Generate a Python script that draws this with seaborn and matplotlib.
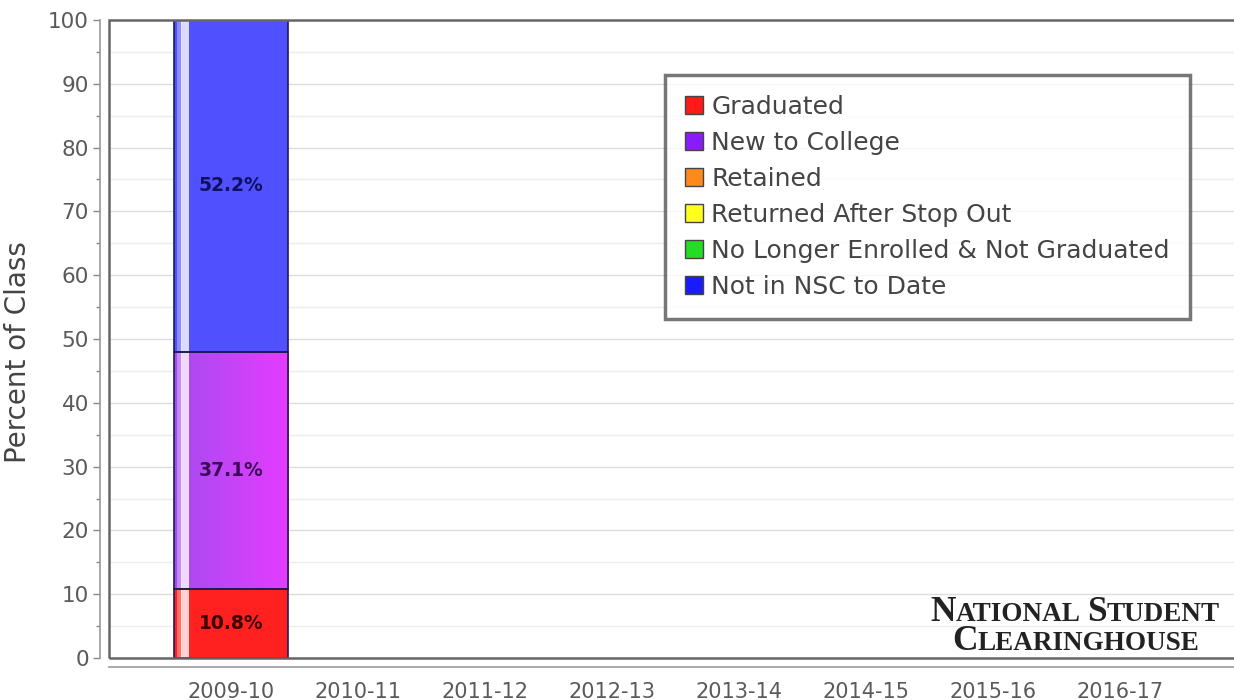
import numpy as np
import pandas as pd
import matplotlib
matplotlib.use('Agg')
import matplotlib.pyplot as plt
import seaborn as sns
from matplotlib.patches import Rectangle
from matplotlib.colors import LinearSegmentedColormap

# data
years          = ['2009-10', '2010-11', '2011-12', '2012-13', '2013-14', '2014-15', '2015-16', '2016-17']
graduated      = [10.8, 0, 0, 0, 0, 0, 0, 0]
new_to_college = [37.1, 0, 0, 0, 0, 0, 0, 0]
retained       = [0, 0, 0, 0, 0, 0, 0, 0]
returned       = [0, 0, 0, 0, 0, 0, 0, 0]
no_longer      = [0, 0, 0, 0, 0, 0, 0, 0]
not_in_nsc     = [52.2, 0, 0, 0, 0, 0, 0, 0]

series_names = ['Graduated', 'New to College', 'Retained', 'Returned After Stop Out',
                'No Longer Enrolled & Not Graduated', 'Not in NSC to Date']
series_vals  = [graduated, new_to_college, retained, returned, no_longer, not_in_nsc]
bar_colors   = ['#ff2020', '#cc44ff', '#ff8a1a', '#ffff20', '#30e030', '#5050ff']
legend_colors = ['#ff1a1a', '#8a1aff', '#ff8a1a', '#ffff1a', '#22dd22', '#1a1aff']
label_colors = ['#3a0000', '#3c0a55', '#3a2000', '#333300', '#003300', '#101060']

sns.set_theme(style='white')
plt.rcParams['font.family'] = ['DejaVu Sans']

fig = plt.figure(figsize=(12.34, 7.0), dpi=100)
ax = fig.add_axes([109 / 1234, 42 / 700, 1132 / 1234, 638 / 700])

# stacked bars: draw cumulative tops from the top series down
tops = np.cumsum(np.array(series_vals, dtype=float), axis=0)
rows = []
for name, top in zip(series_names, tops):
    for yr, t in zip(years, top):
        rows.append({'year': yr, 'series': name, 'top': t})
df = pd.DataFrame(rows)

containers = {}
for name, col in reversed(list(zip(series_names, bar_colors))):
    n_before = len(ax.containers)
    sns.barplot(data=df[df.series == name], x='year', y='top', order=years,
                color=col, saturation=1, width=0.9, linewidth=0, ax=ax, zorder=3)
    containers[name] = ax.containers[n_before]

fig.canvas.draw()
for i, name in enumerate(series_names):
    vals = series_vals[i]
    for patch, v in zip(containers[name].patches, vals):
        if v <= 0:
            patch.set_visible(False)
            continue
        x0, w = patch.get_x(), patch.get_width()
        top = patch.get_height()
        y0 = top - v
        # purple gets a left-to-right gradient like the original
        if name == 'New to College':
            cmap = LinearSegmentedColormap.from_list('pg', ['#a64cf0', '#e43cff'])
            img = ax.imshow(np.linspace(0, 1, 64).reshape(1, -1), cmap=cmap, aspect='auto',
                            extent=(x0, x0 + w, y0, top), zorder=3.1)
            img.set_clip_path(patch)
        # glossy highlight stripe near the left edge
        ax.add_patch(Rectangle((x0 + 0.03 * w, y0), 0.04 * w, v, facecolor='white',
                               alpha=0.35, linewidth=0, zorder=3.2))
        ax.add_patch(Rectangle((x0 + 0.06 * w, y0), 0.07 * w, v, facecolor='white',
                               alpha=0.8, linewidth=0, zorder=3.3))
        ax.add_patch(Rectangle((x0, y0), w, v, facecolor='none', edgecolor='#1c1c50',
                               linewidth=1.2, zorder=3.5))
        ax.text(x0 + w / 2, y0 + v / 2, f'{v:.1f}%', ha='center', va='center',
                fontsize=13.5, fontweight='bold', color=label_colors[i], zorder=4)

ax.set_ylim(0, 100)
ax.set_xlim(-0.96, 7.95)
ax.set_yticks(range(0, 101, 10))
ax.set_yticks(range(5, 100, 10), minor=True)
ax.grid(axis='y', which='major', color='#dcdcdc', linewidth=1.0, zorder=0)
ax.grid(axis='y', which='minor', color='#ececec', linewidth=1.0, zorder=0)
ax.set_axisbelow(True)

ax.set_xlabel('')
ax.set_ylabel('Percent of Class', fontsize=20, color='#444444')
ax.yaxis.set_label_coords(-0.068, 0.48)
ax.tick_params(axis='y', which='both', left=True, direction='out', length=5, width=1,
               color='#888888', labelsize=15.5, labelcolor='#5a5a5a', pad=3)
ax.tick_params(axis='y', which='minor', length=3)
ax.tick_params(axis='x', bottom=False, labelsize=15, labelcolor='#5a5a5a', pad=5)

# offset axis lines plus a plot frame, as in the original
for side in ['left', 'bottom']:
    ax.spines[side].set_position(('outward', 6.5))
    ax.spines[side].set_color('#999999')
    ax.spines[side].set_linewidth(1.2)
for side in ['top', 'right']:
    ax.spines[side].set_visible(False)
ax.add_patch(Rectangle((0, 0), 1, 1, transform=ax.transAxes, facecolor='none',
                       edgecolor='#666666', linewidth=1.8, zorder=5, clip_on=False))

# legend
handles = [Rectangle((0, 0), 1, 1, facecolor=c, edgecolor='#444444', linewidth=1)
           for c in legend_colors]
leg = ax.legend(handles, series_names, loc='upper left', bbox_to_anchor=(556 / 1132, 1 - 55 / 638),
                fontsize=18, frameon=True, fancybox=False, handlelength=0.7, handleheight=0.7,
                handletextpad=0.35, labelspacing=0.48, borderpad=0.8, borderaxespad=0)
leg.get_frame().set_edgecolor('#555555')
leg.get_frame().set_linewidth(2.5)
for t in leg.get_texts():
    t.set_color('#444444')
leg.set_zorder(6)

# NSC logo as fake small caps
renderer = fig.canvas.get_renderer()
def small_caps(pieces, x_px, base_px, big=25.5, small=19.5):
    x = x_px
    for s, is_big in pieces:
        t = fig.text(x / 1234, 1 - base_px / 700, s, fontsize=big if is_big else small,
                     family='Liberation Serif', fontweight='bold', color='#222222',
                     va='baseline', ha='left', zorder=7)
        bb = t.get_window_extent(renderer)
        x = bb.x1

small_caps([('N', True), ('ATIONAL', False), (' ', False), ('S', True), ('TUDENT', False)], 930, 621)
small_caps([('C', True), ('LEARINGHOUSE', False)], 952, 650)

fig.savefig('out.png', dpi=100)
